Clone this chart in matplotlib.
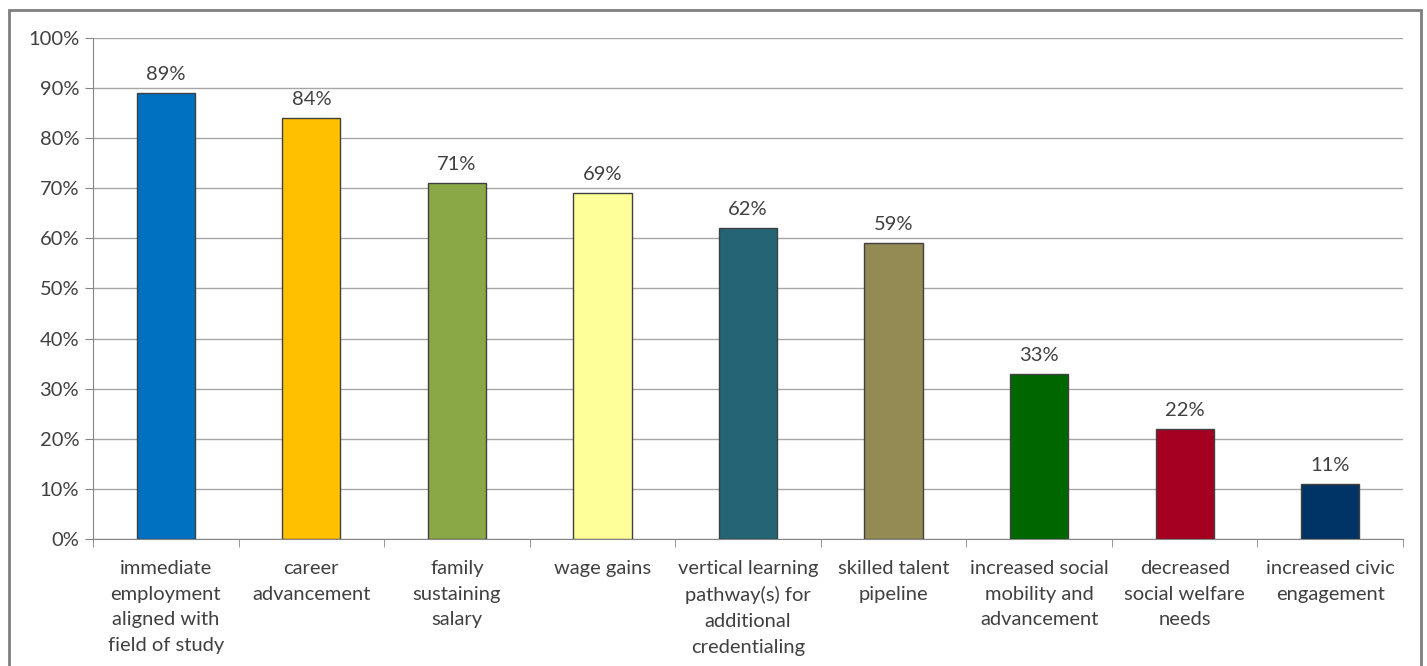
import matplotlib
matplotlib.use("Agg")
import matplotlib.pyplot as plt
from matplotlib.patches import Rectangle
from matplotlib.ticker import FuncFormatter, MultipleLocator

categories = [
    "immediate\nemployment\naligned with\nfield of study",
    "career\nadvancement",
    "family\nsustaining\nsalary",
    "wage gains",
    "vertical learning\npathway(s) for\nadditional\ncredentialing",
    "skilled talent\npipeline",
    "increased social\nmobility and\nadvancement",
    "decreased\nsocial welfare\nneeds",
    "increased civic\nengagement",
]
values = [89, 84, 71, 69, 62, 59, 33, 22, 11]
colors = ["#0070C0", "#FFC000", "#8AA846", "#FFFF99", "#246475",
          "#948A54", "#006600", "#A50021", "#003366"]

plt.rcParams["font.family"] = ["Lato", "DejaVu Sans"]
text_color = "#404040"
fs = 14.5

fig = plt.figure(figsize=(14.27, 6.66), dpi=100)
ax = fig.add_axes([0.0652, 0.1907, 0.9180, 0.7523])

x = range(len(values))
bars = ax.bar(x, values, width=0.4, color=colors, edgecolor="#404040",
              linewidth=1.0, zorder=3)

for xi, v in zip(x, values):
    ax.text(xi, v + 2.0, f"{v}%", ha="center", va="bottom",
            fontsize=fs, color=text_color)

ax.set_ylim(0, 100)
ax.set_xlim(-0.5, len(values) - 0.5)
ax.yaxis.set_major_locator(MultipleLocator(10))
ax.yaxis.set_major_formatter(FuncFormatter(lambda y, _: f"{y:.0f}%"))
ax.grid(axis="y", color="#A6A6A6", linewidth=1.0, zorder=0)

ax.set_xticks(list(x))
ax.set_xticklabels(categories, fontsize=fs, color=text_color, linespacing=1.62)
ax.tick_params(axis="x", length=0, pad=15)
ax.set_xticks([i + 0.5 for i in range(-1, len(values))], minor=True)
ax.tick_params(axis="x", which="minor", length=6, color="#868686")
ax.tick_params(axis="y", labelsize=fs, labelcolor=text_color, length=6,
               color="#868686", pad=4)

for side in ["top", "right"]:
    ax.spines[side].set_visible(False)
for side in ["left", "bottom"]:
    ax.spines[side].set_color("#868686")

# outer chart frame
fig.patches.append(Rectangle((9 / 1427, -0.01), 1412 / 1427, 1 - 10 / 666 + 0.01,
                             transform=fig.transFigure, fill=False,
                             edgecolor="#7F7F7F", linewidth=2))

fig.savefig("out.png", dpi=100)
